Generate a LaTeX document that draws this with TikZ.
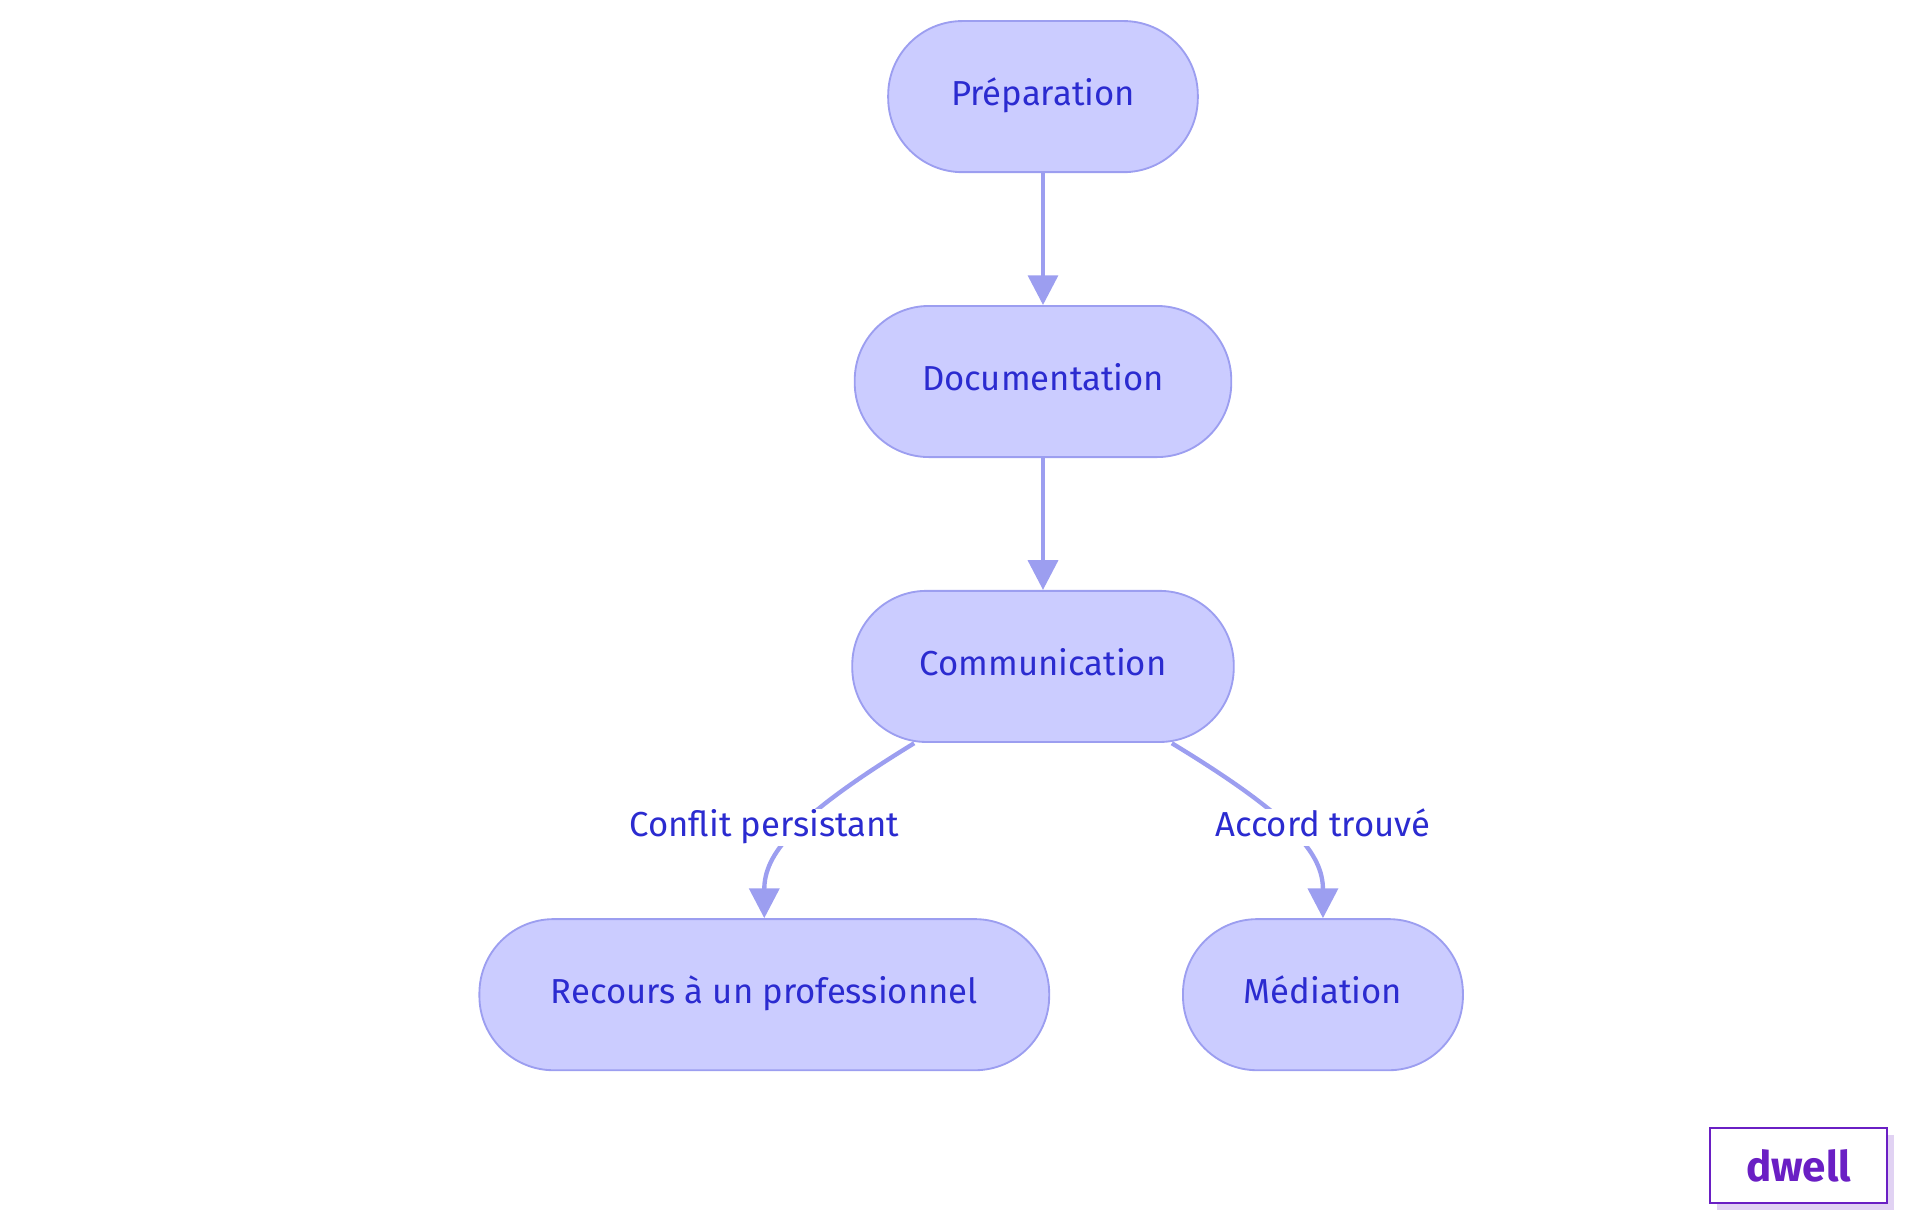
\documentclass[tikz,border=0pt]{standalone}
\usepackage{fontspec}
\setmainfont{Fira Sans}
\usetikzlibrary{positioning,arrows.meta}
\definecolor{boxfill}{HTML}{CBCCFF}
\definecolor{boxline}{HTML}{9C9EF0}
\definecolor{boxtext}{HTML}{2B2BD0}
\definecolor{logo}{HTML}{6A1FC4}
\begin{document}
\begin{tikzpicture}[
    x=1pt, y=-1pt,
    stage/.style={
        draw = boxline,
        fill = boxfill,
        line width = 1.5pt,
        rounded corners = 60pt,
        minimum height = 122pt,
        text = boxtext,
        text height = 20pt,
        text depth = 6pt,
        font = \fontsize{28}{34}\selectfont
    },
    tag/.style={
        fill = white,
        text = boxtext,
        inner sep = 2pt,
        text height = 20pt,
        text depth = 6pt,
        font = \fontsize{28}{34}\selectfont
    },
    flow/.style={
        draw = boxline,
        line width = 3.5pt,
        -{Triangle[length=24pt,width=24pt]}
    }
]
\useasboundingbox (0,0) rectangle (1550,981);

\node[stage, minimum width=250pt] (prep) at (842,78) {Préparation};
\node[stage, minimum width=304pt] (doc) at (842,308) {Documentation};
\node[stage, minimum width=308pt] (comm) at (842,538) {Communication};
\node[stage, minimum width=460pt] (pro) at (617,803) {Recours à un professionnel};
\node[stage, minimum width=226pt] (med) at (1068,803) {Médiation};

\draw[flow] (prep) -- (doc);
\draw[flow] (doc) -- (comm);
\coordinate (cl) at (738,600);
\coordinate (cr) at (946,600);
\draw[flow] (cl) .. controls (640,660) and (617,690) .. (pro.north);
\draw[flow] (cr) .. controls (1045,660) and (1068,690) .. (med.north);
\node[tag] (conflit) at (617,668) {Conflit persistant};
\node[tag] (accord) at (1068,668) {Accord trouvé};

% logo
\fill[logo!20] (1386,916) rectangle (1529,977);
\node[draw=logo, fill=white, line width=1.5pt, minimum width=143pt,
      minimum height=61pt, text=logo,
      font=\fontsize{34}{40}\selectfont\bfseries] (dwell) at (1452,941) {dwell};
\end{tikzpicture}
\end{document}
